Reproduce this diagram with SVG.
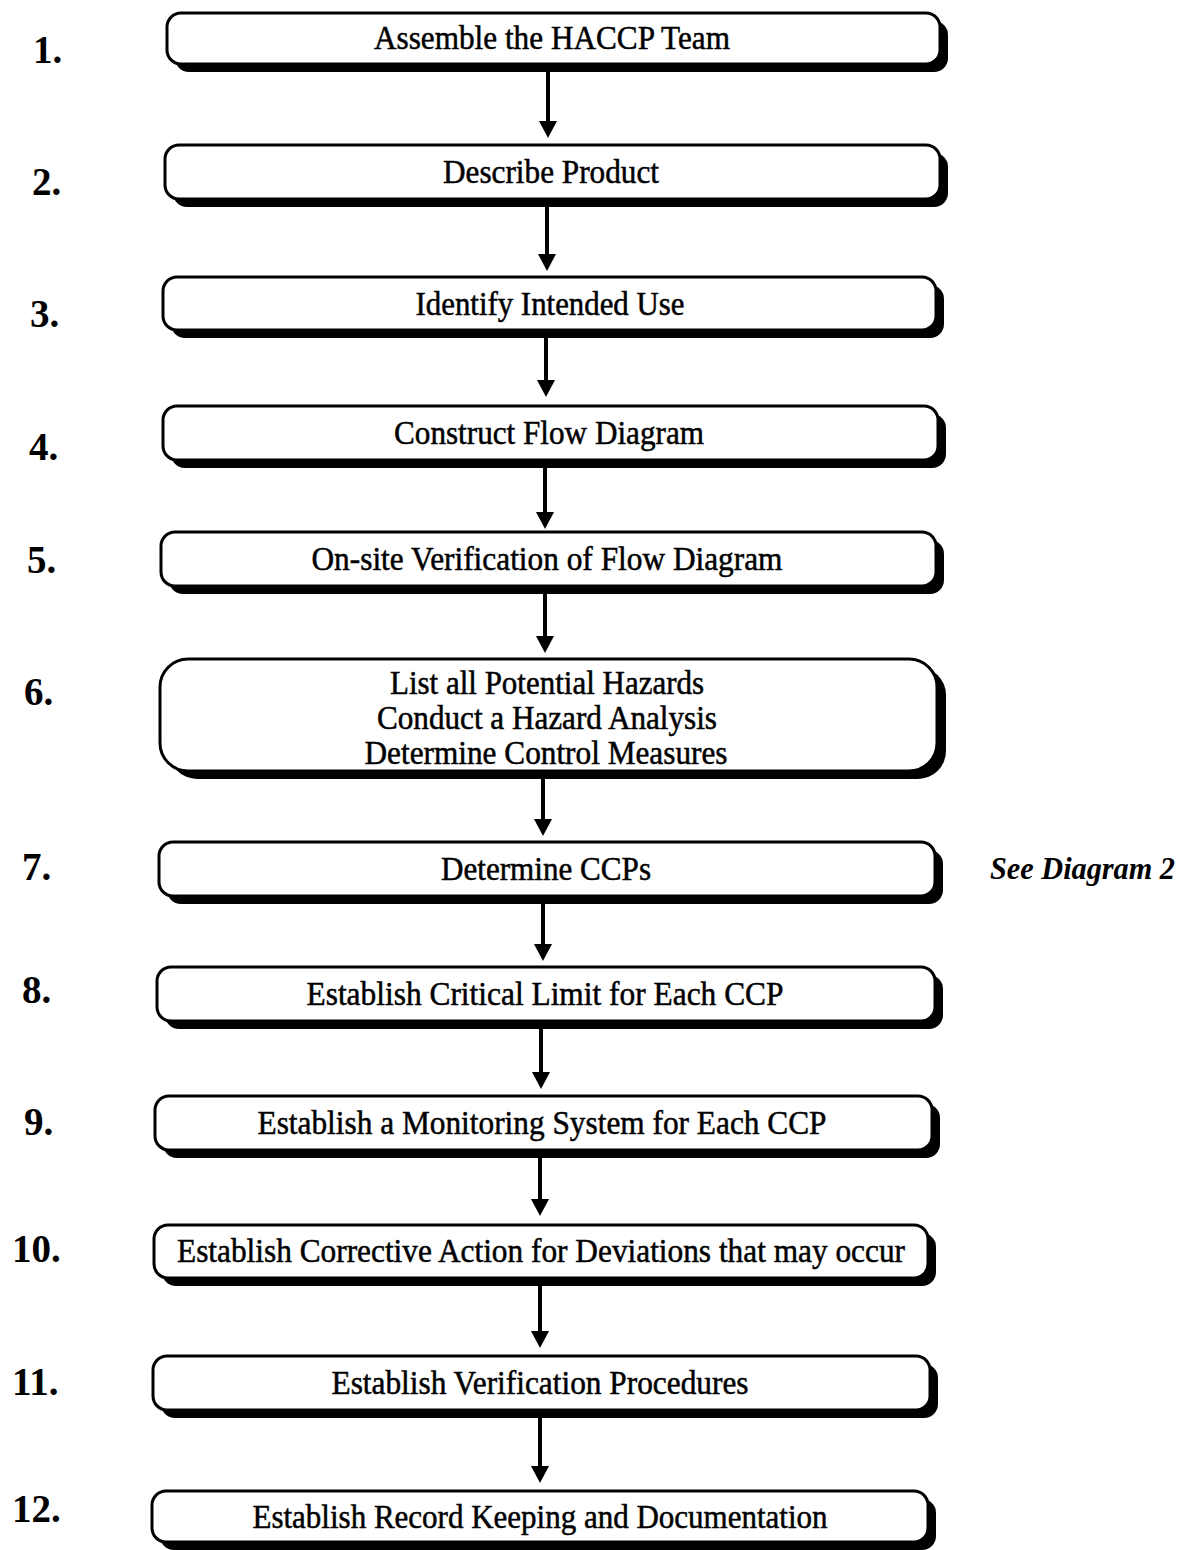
<svg xmlns="http://www.w3.org/2000/svg" width="1181" height="1550" viewBox="0 0 1181 1550">
<style>
.sh{fill:#000;stroke:none}
.bx{fill:#fff;stroke:#000;stroke-width:3}
.t{font-family:"Liberation Serif","Times New Roman",serif;font-size:33px;fill:#000;stroke:#000;stroke-width:0.5;text-anchor:middle}
.n{font-family:"Liberation Serif","Times New Roman",serif;font-size:39px;font-weight:bold;fill:#000}
.note{font-family:"Liberation Serif","Times New Roman",serif;font-size:31px;font-weight:bold;font-style:italic;fill:#000}
.ln{stroke:#000;stroke-width:4;fill:none}
</style>
<rect width="1181" height="1550" fill="#fff"/>
<g id="connectors">
<line class="ln" x1="548" y1="72" x2="548" y2="121"/><path d="M539,121 L557,121 L548,138 Z"/>
<line class="ln" x1="547" y1="207" x2="547" y2="254"/><path d="M538,254 L556,254 L547,271 Z"/>
<line class="ln" x1="546" y1="338" x2="546" y2="380"/><path d="M537,380 L555,380 L546,397 Z"/>
<line class="ln" x1="545" y1="468" x2="545" y2="512"/><path d="M536,512 L554,512 L545,529 Z"/>
<line class="ln" x1="545" y1="594" x2="545" y2="636"/><path d="M536,636 L554,636 L545,653 Z"/>
<line class="ln" x1="543" y1="779" x2="543" y2="819"/><path d="M534,819 L552,819 L543,836 Z"/>
<line class="ln" x1="543" y1="904" x2="543" y2="944"/><path d="M534,944 L552,944 L543,961 Z"/>
<line class="ln" x1="541" y1="1029" x2="541" y2="1072"/><path d="M532,1072 L550,1072 L541,1089 Z"/>
<line class="ln" x1="540" y1="1158" x2="540" y2="1199"/><path d="M531,1199 L549,1199 L540,1216 Z"/>
<line class="ln" x1="540" y1="1286" x2="540" y2="1331"/><path d="M531,1331 L549,1331 L540,1348 Z"/>
<line class="ln" x1="540" y1="1418" x2="540" y2="1466"/><path d="M531,1466 L549,1466 L540,1483 Z"/>
</g>
<g id="step1">
<rect class="sh" x="175" y="21" width="773" height="51" rx="14"/>
<rect class="bx" x="167" y="13" width="773" height="51" rx="14"/>
<text class="t" x="552" y="49" textLength="356" lengthAdjust="spacingAndGlyphs">Assemble the HACCP Team</text>
<text class="n" x="33" y="63">1.</text>
</g>
<g id="step2">
<rect class="sh" x="173" y="153" width="775" height="54" rx="14"/>
<rect class="bx" x="165" y="145" width="775" height="54" rx="14"/>
<text class="t" x="551" y="183" textLength="216" lengthAdjust="spacingAndGlyphs">Describe Product</text>
<text class="n" x="32" y="195">2.</text>
</g>
<g id="step3">
<rect class="sh" x="171" y="285" width="773" height="53" rx="14"/>
<rect class="bx" x="163" y="277" width="773" height="53" rx="14"/>
<text class="t" x="550" y="315" textLength="269" lengthAdjust="spacingAndGlyphs">Identify Intended Use</text>
<text class="n" x="30" y="327">3.</text>
</g>
<g id="step4">
<rect class="sh" x="171" y="414" width="775" height="54" rx="14"/>
<rect class="bx" x="163" y="406" width="775" height="54" rx="14"/>
<text class="t" x="549" y="444" textLength="310" lengthAdjust="spacingAndGlyphs">Construct Flow Diagram</text>
<text class="n" x="29" y="460">4.</text>
</g>
<g id="step5">
<rect class="sh" x="169" y="540" width="775" height="54" rx="14"/>
<rect class="bx" x="161" y="532" width="775" height="54" rx="14"/>
<text class="t" x="547" y="570" textLength="471" lengthAdjust="spacingAndGlyphs">On-site Verification of Flow Diagram</text>
<text class="n" x="27" y="573">5.</text>
</g>
<g id="step6">
<rect class="sh" x="169" y="667" width="777" height="112" rx="28"/>
<rect class="bx" x="160" y="659" width="777" height="112" rx="28"/>
<text class="t" x="547" y="694" textLength="314" lengthAdjust="spacingAndGlyphs">List all Potential Hazards</text>
<text class="t" x="547" y="729" textLength="340" lengthAdjust="spacingAndGlyphs">Conduct a Hazard Analysis</text>
<text class="t" x="546" y="764" textLength="363" lengthAdjust="spacingAndGlyphs">Determine Control Measures</text>
<text class="n" x="24" y="705">6.</text>
</g>
<g id="step7">
<rect class="sh" x="167" y="850" width="776" height="54" rx="14"/>
<rect class="bx" x="159" y="842" width="776" height="54" rx="14"/>
<text class="t" x="546" y="880" textLength="210" lengthAdjust="spacingAndGlyphs">Determine CCPs</text>
<text class="n" x="22" y="880">7.</text>
<text class="note" x="990" y="879" textLength="185" lengthAdjust="spacingAndGlyphs">See Diagram 2</text>
</g>
<g id="step8">
<rect class="sh" x="165" y="975" width="778" height="54" rx="14"/>
<rect class="bx" x="157" y="967" width="778" height="54" rx="14"/>
<text class="t" x="545" y="1005" textLength="477" lengthAdjust="spacingAndGlyphs">Establish Critical Limit for Each CCP</text>
<text class="n" x="22" y="1003">8.</text>
</g>
<g id="step9">
<rect class="sh" x="163" y="1104" width="777" height="54" rx="14"/>
<rect class="bx" x="155" y="1096" width="777" height="54" rx="14"/>
<text class="t" x="542" y="1134" textLength="569" lengthAdjust="spacingAndGlyphs">Establish a Monitoring System for Each CCP</text>
<text class="n" x="24" y="1135">9.</text>
</g>
<g id="step10">
<rect class="sh" x="162" y="1233" width="774" height="53" rx="14"/>
<rect class="bx" x="154" y="1225" width="774" height="53" rx="14"/>
<text class="t" x="541" y="1262" textLength="728" lengthAdjust="spacingAndGlyphs">Establish Corrective Action for Deviations that may occur</text>
<text class="n" x="12" y="1262">10.</text>
</g>
<g id="step11">
<rect class="sh" x="161" y="1364" width="777" height="54" rx="14"/>
<rect class="bx" x="153" y="1356" width="777" height="54" rx="14"/>
<text class="t" x="540" y="1394" textLength="417" lengthAdjust="spacingAndGlyphs">Establish Verification Procedures</text>
<text class="n" x="12" y="1395">11.</text>
</g>
<g id="step12">
<rect class="sh" x="160" y="1499" width="776" height="51" rx="14"/>
<rect class="bx" x="152" y="1491" width="776" height="51" rx="14"/>
<text class="t" x="540" y="1528" textLength="575" lengthAdjust="spacingAndGlyphs">Establish Record Keeping and Documentation</text>
<text class="n" x="12" y="1522">12.</text>
</g>
</svg>
